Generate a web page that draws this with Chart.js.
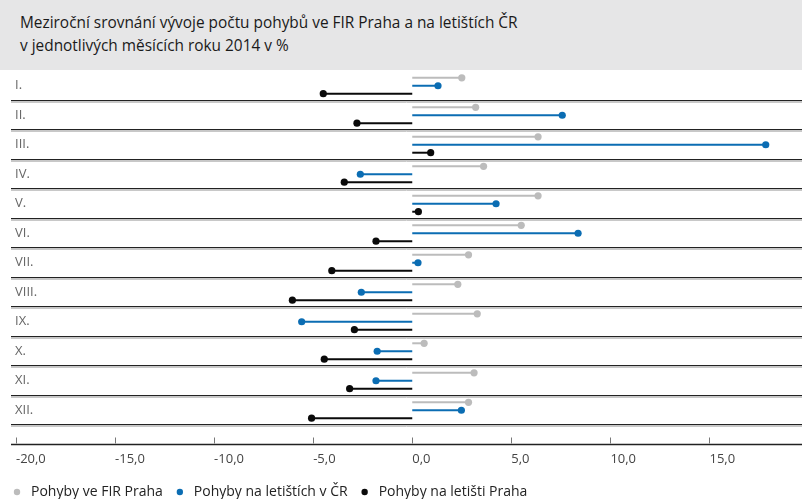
<!DOCTYPE html>
<html>
<head>
<meta charset="utf-8">
<script src="https://cdn.jsdelivr.net/npm/chart.js@4.4.0/dist/chart.umd.min.js"></script>
<style>
  body { margin: 0; background: #fff; font-family: "Open Sans", sans-serif; overflow: hidden; }
  #titulek { width: 802px; height: 70px; background: #e6e6e7; box-sizing: border-box; padding: 11px 0 0 20px; font-size: 15.4px; line-height: 23px; color: #1a1a1a; }
  #obal { position: relative; width: 802px; height: 439px; }
</style>
</head>
<body>
<div id="titulek">Meziroční srovnání vývoje počtu pohybů ve FIR Praha a na letištích ČR<br>v jednotlivých měsících roku 2014 v %</div>
<div id="obal"><canvas id="graf"></canvas></div>
<script>
var mesice = ['I.', 'II.', 'III.', 'IV.', 'V.', 'VI.', 'VII.', 'VIII.', 'IX.', 'X.', 'XI.', 'XII.'];
var firPraha = [2.5, 3.2, 6.35, 3.6, 6.35, 5.5, 2.84, 2.3, 3.28, 0.6, 3.12, 2.84];
var letisteCR = [1.3, 7.57, 17.84, -2.62, 4.23, 8.37, 0.29, -2.57, -5.58, -1.77, -1.83, 2.48];
var letistePraha = [-4.49, -2.79, 0.93, -3.43, 0.31, -1.83, -4.06, -6.05, -2.92, -4.44, -3.16, -5.08];
var osaTicks = [-20, -15, -10, -5, 0, 5, 10, 15];

// tecky na konci car
var teckyPlugin = {
  id: 'tecky',
  afterDatasetsDraw: function(chart) {
    var ctx = chart.ctx;
    chart.data.datasets.forEach(function(ds, i) {
      chart.getDatasetMeta(i).data.forEach(function(bar) {
        ctx.beginPath();
        ctx.arc(bar.x, bar.y, 3.6, 0, Math.PI * 2);
        ctx.fillStyle = ds.backgroundColor;
        ctx.fill();
      });
    });
  }
};

// svetla linka pod kazdym oddelovacem + osa x s carkami nahoru
var osaPlugin = {
  id: 'osa',
  beforeDatasetsDraw: function(chart) {
    var ctx = chart.ctx;
    var area = chart.chartArea;
    var y = chart.scales.y;
    ctx.save();
    ctx.strokeStyle = '#c8c8c8';
    ctx.lineWidth = 1;
    for (var i = 1; i <= mesice.length; i++) {
      var py = i < mesice.length ? (y.getPixelForValue(i - 1) + y.getPixelForValue(i)) / 2 : area.bottom;
      py = Math.round(py) + 1.5;
      ctx.beginPath();
      ctx.moveTo(area.left, py);
      ctx.lineTo(area.right, py);
      ctx.stroke();
    }
    ctx.restore();
  },
  afterDraw: function(chart) {
    var ctx = chart.ctx;
    var area = chart.chartArea;
    var x = chart.scales.x;
    var y0 = Math.round(area.bottom + 19) + 0.5;
    ctx.save();
    ctx.strokeStyle = '#222';
    ctx.lineWidth = 1.3;
    ctx.beginPath();
    ctx.moveTo(area.left, y0);
    ctx.lineTo(area.right, y0);
    ctx.stroke();
    ctx.strokeStyle = '#777';
    ctx.lineWidth = 1;
    osaTicks.forEach(function(t) {
      var px = Math.round(x.getPixelForValue(t)) + 0.5;
      ctx.beginPath();
      ctx.moveTo(px, y0 - 1);
      ctx.lineTo(px, y0 - 7);
      ctx.stroke();
    });
    ctx.restore();
  }
};

var ctx = document.getElementById('graf').getContext('2d');
Chart.defaults.font.family = '"Open Sans", sans-serif';

var myChart = new Chart(ctx, {
  type: 'bar',
  data: {
    labels: mesice,
    datasets: [
      { label: 'Pohyby ve FIR Praha', data: firPraha, backgroundColor: '#bcbcbc' },
      { label: 'Pohyby na letištích v ČR', data: letisteCR, backgroundColor: '#0b6db3' },
      { label: 'Pohyby na letišti Praha', data: letistePraha, backgroundColor: '#0a0a0a' }
    ]
  },
  options: {
    indexAxis: 'y',
    responsive: true,
    maintainAspectRatio: false,
    animation: false,
    categoryPercentage: 0.81,
    barPercentage: 0.25,
    layout: { autoPadding: false, padding: { top: 1, left: 0, right: 0, bottom: 0 } },
    events: [],
    scales: {
      x: {
        min: -20.25,
        max: 19.67,
        grid: { display: false, drawTicks: false },
        border: { display: false },
        afterFit: function(s) { s.height = 50; s.paddingLeft = 0; s.paddingRight = 0; },
        ticks: {
          stepSize: 5,
          includeBounds: false,
          align: 'start',
          padding: 26,
          color: '#444',
          font: { size: 13 },
          callback: function(v) { return v.toFixed(1).replace('.', ','); }
        }
      },
      y: {
        afterFit: function(s) { s.width = 11; s.paddingTop = 0; s.paddingBottom = 0; },
        grid: {
          drawTicks: false,
          lineWidth: 1.3,
          color: function(c) { return c.index === 0 ? 'rgba(0,0,0,0)' : '#222'; }
        },
        border: { display: false },
        ticks: {
          mirror: true,
          padding: 4,
          color: '#666',
          font: { size: 13 }
        }
      }
    },
    plugins: {
      tooltip: { enabled: false },
      legend: {
        position: 'bottom',
        align: 'start',
        labels: {
          usePointStyle: true,
          boxHeight: 4.5,
          padding: 10,
          color: '#222',
          font: { size: 14 }
        }
      }
    }
  },
  plugins: [teckyPlugin, osaPlugin]
});
</script>
</body>
</html>
